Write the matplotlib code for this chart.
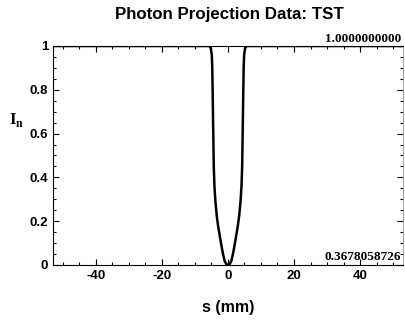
import matplotlib
matplotlib.use('Agg')
import matplotlib.pyplot as plt
from matplotlib.ticker import MultipleLocator

plt.rcParams['axes.unicode_minus'] = False

# Projection profile
s_mm = [-53.0, -5.6, -5.2, -4.9, -4.75, -4.6, -4.45, -4.3, -4.1, -3.8, -3.4, -3.0,
        -2.5, -2.0, -1.5, -1.0, -0.5, 0.0,
        0.5, 1.0, 1.5, 2.0, 2.5, 3.0, 3.4, 3.8, 4.1, 4.3, 4.45, 4.6, 4.75, 4.9,
        5.2, 5.6, 53.0]
i_norm = [1.0, 1.0, 0.99, 0.96, 0.9, 0.75, 0.6, 0.45, 0.36, 0.29, 0.225, 0.18,
          0.135, 0.09, 0.05, 0.018, 0.004, 0.0,
          0.004, 0.018, 0.05, 0.09, 0.135, 0.18, 0.225, 0.29, 0.36, 0.45, 0.6,
          0.75, 0.9, 0.96, 0.99, 1.0, 1.0]

title = 'Photon Projection Data: TST'
max_label = '1.0000000000'
min_label = '0.3678058726'

fig = plt.figure(figsize=(4.06, 3.23), dpi=100)
ax = fig.add_axes([0.1305, 0.1796, 0.862, 0.678])

ax.plot(s_mm, i_norm, color='black', lw=1.8)

ax.set_xlim(-53, 53)
ax.set_ylim(0, 1)
ax.xaxis.set_major_locator(MultipleLocator(20))
ax.xaxis.set_minor_locator(MultipleLocator(5))
ax.yaxis.set_minor_locator(MultipleLocator(0.05))
ax.set_yticks([0, 0.2, 0.4, 0.6, 0.8, 1.0])
ax.set_yticklabels(['0', '0.2', '0.4', '0.6', '0.8', '1'])

ax.tick_params(which='both', direction='in', top=True, right=True, width=0.8)
ax.tick_params(which='major', length=4, labelsize=9.5)
ax.tick_params(which='minor', length=2)
for lab in ax.get_xticklabels() + ax.get_yticklabels():
    lab.set_fontweight('bold')
    lab.set_family('Liberation Sans')

ax.spines['right'].set_color('#999999')
ax.spines['right'].set_linewidth(0.6)

fig.text(0.564, 0.955, title, ha='center', va='center', fontsize=12.2,
         fontweight='bold', family='Liberation Sans')
ax.set_xlabel('s (mm)', fontsize=11.5, fontweight='bold', family='Liberation Sans',
              labelpad=13)
ax.set_ylabel(r'I$_\mathregular{n}$', fontsize=12, fontweight='bold',
              family='Liberation Serif', rotation=0, labelpad=14, va='center')
ax.yaxis.set_label_coords(-0.105, 0.66)

ax.text(0.995, 1.004, max_label, transform=ax.transAxes, ha='right', va='bottom',
        fontsize=9.5, fontweight='bold', family='Liberation Serif')
ax.text(0.995, 0.008, min_label, transform=ax.transAxes, ha='right', va='bottom',
        fontsize=9.5, fontweight='bold', family='Liberation Serif')

fig.savefig('out.png', dpi=100)
